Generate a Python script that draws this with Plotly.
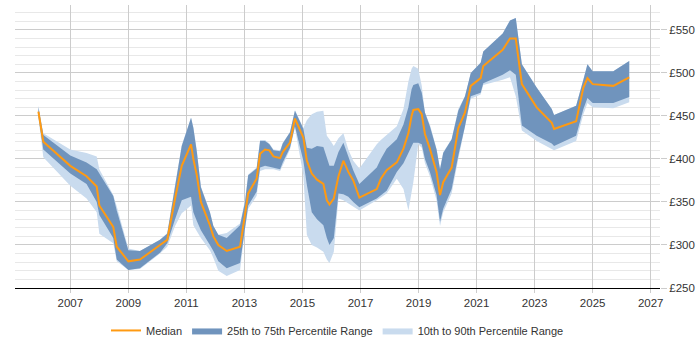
import plotly.graph_objects as go

years = [2005.9, 2006.07, 2007.0, 2007.56, 2007.91, 2008.0, 2008.48, 2008.6, 2009.0, 2009.4,
         2010.09, 2010.34, 2010.61, 2010.84, 2011.16, 2011.24, 2011.36, 2011.5, 2011.81, 2011.93,
         2012.1, 2012.39, 2012.85, 2013.02, 2013.13, 2013.42, 2013.54, 2013.71, 2013.86, 2014.0,
         2014.23, 2014.32, 2014.57, 2014.74, 2015.03, 2015.15, 2015.32, 2015.5, 2015.72, 2015.84,
         2015.93, 2016.08, 2016.24, 2016.41, 2016.58, 2016.75, 2016.96, 2017.56, 2017.7, 2017.9,
         2018.25, 2018.48, 2018.65, 2018.76, 2018.82, 2018.99, 2019.11, 2019.22, 2019.39, 2019.62,
         2019.74, 2019.85, 2020.14, 2020.37, 2020.6, 2020.8, 2021.14, 2021.23, 2021.9, 2022.15,
         2022.35, 2022.56, 2023.07, 2023.59, 2023.67, 2024.43, 2024.68, 2024.82, 2025.0, 2025.71,
         2026.26]

median = [455, 420, 392, 380, 368, 346, 321, 298, 281, 283,
          300, 306, 354, 392, 417, 400, 381, 350, 323, 310,
          300, 293, 298, 338, 360, 377, 406, 411, 410, 403,
          401, 408, 419, 447, 425, 398, 383, 376, 371, 352,
          347, 354, 380, 398, 385, 375, 355, 365, 377, 387,
          396, 412, 430, 450, 457, 458, 452, 429, 412, 385,
          358, 373, 390, 436, 454, 485, 494, 508, 527, 540,
          540, 487, 460, 442, 435, 444, 483, 494, 487, 485,
          495]

p25 = [450, 411, 383, 371, 350, 335, 308, 283, 271, 273,
       291, 302, 330, 352, 356, 338, 328, 317, 300, 293,
       281, 273, 279, 323, 346, 362, 390, 392, 391, 390,
       388, 396, 413, 438, 398, 370, 338, 330, 323, 308,
       300, 308, 360, 359, 356, 350, 344, 354, 358, 363,
       385, 395, 407, 415, 419, 419, 417, 400, 385, 358,
       327, 342, 365, 404, 438, 473, 477, 488, 498, 503,
       498, 439, 427, 418, 415, 427, 458, 471, 465, 465,
       472]

p75 = [460, 428, 404, 396, 388, 383, 357, 340, 294, 293,
       306, 313, 370, 415, 448, 436, 408, 367, 338, 322,
       312, 308, 323, 350, 381, 389, 421, 421, 417, 410,
       409, 418, 431, 456, 435, 413, 412, 415, 414, 400,
       392, 392, 408, 419, 403, 387, 371, 390, 400, 412,
       423, 440, 460, 481, 486, 488, 477, 454, 438, 411,
       388, 407, 423, 456, 473, 500, 512, 525, 546, 561,
       564, 510, 483, 458, 451, 462, 492, 510, 502, 502,
       514]

p10 = [448, 402, 369, 354, 338, 313, 302, 281, 271, 272,
       290, 298, 322, 337, 346, 323, 316, 308, 294, 285,
       270, 264, 271, 319, 342, 357, 386, 388, 388, 388,
       386, 393, 411, 436, 381, 312, 300, 297, 292, 283,
       279, 292, 354, 352, 348, 344, 340, 352, 355, 360,
       377, 365, 340, 362, 373, 417, 413, 395, 380, 352,
       322, 338, 360, 400, 436, 470, 475, 486, 492, 495,
       473, 433, 421, 412, 410, 421, 452, 465, 460, 459,
       466]

p90 = [462, 430, 411, 407, 403, 388, 358, 345, 296, 293,
       306, 314, 370, 416, 448, 437, 410, 368, 339, 322,
       312, 314, 325, 352, 382, 390, 422, 422, 418, 411,
       410, 419, 431, 457, 436, 445, 452, 455, 456, 427,
       423, 415, 424, 430, 411, 398, 389, 417, 422, 428,
       438, 458, 490, 505, 508, 505, 485, 454, 440, 412,
       389, 408, 423, 458, 473, 500, 512, 525, 546, 561,
       564, 510, 483, 458, 451, 462, 492, 510, 502, 502,
       514]

x_ticks = [2007, 2009, 2011, 2013, 2015, 2017, 2019, 2021, 2023, 2025, 2027]
x_labels = [str(y) for y in x_ticks]
y_ticks = [250, 300, 350, 400, 450, 500, 550]
y_labels = ["£" + str(v) for v in y_ticks]

LIGHT = "#c9dbee"
DARK = "#7094bd"
ORANGE = "#ff9a12"

fig = go.Figure()
fig.add_trace(go.Scatter(x=years, y=p10, mode="lines", line=dict(width=0, color=LIGHT),
                         showlegend=False, hoverinfo="skip"))
fig.add_trace(go.Scatter(x=years, y=p90, mode="lines", line=dict(width=0, color=LIGHT),
                         fill="tonexty", fillcolor=LIGHT, name="10th to 90th Percentile Range",
                         legendrank=3))
fig.add_trace(go.Scatter(x=years, y=p25, mode="lines", line=dict(width=0, color=DARK),
                         showlegend=False, hoverinfo="skip"))
fig.add_trace(go.Scatter(x=years, y=p75, mode="lines", line=dict(width=0, color=DARK),
                         fill="tonexty", fillcolor=DARK, name="25th to 75th Percentile Range",
                         legendrank=2))
fig.add_trace(go.Scatter(x=years, y=median, mode="lines", line=dict(width=2, color=ORANGE),
                         name="Median", legendrank=1))

fig.update_layout(
    width=700, height=350,
    margin=dict(l=15, r=40, t=5, b=60),
    paper_bgcolor="white", plot_bgcolor="white",
    font=dict(family="Liberation Sans, Arial, sans-serif", size=11, color="#333333"),
    showlegend=True,
    legend=dict(orientation="h", x=0.5, xanchor="center", y=-0.15, yanchor="middle",
                font=dict(size=11, color="#333333"), traceorder="normal",
                itemwidth=30),
    xaxis=dict(range=[2005.094, 2027.32], tickvals=x_ticks, ticktext=x_labels,
               showgrid=True, gridcolor="#cccccc", gridwidth=1,
               showline=True, linecolor="#000000", linewidth=1,
               ticks="outside", ticklen=4, tickcolor="#cccccc",
               zeroline=False, tickfont=dict(size=11.5, color="#333333")),
    yaxis=dict(range=[250, 579], side="right", tickvals=y_ticks, ticktext=y_labels,
               showgrid=True, gridcolor="#cccccc", gridwidth=1,
               minor=dict(dtick=10, tick0=250, showgrid=True, gridcolor="#e8e8e8", gridwidth=1),
               ticks="outside", ticklen=6, tickcolor="#cccccc",
               showline=False, zeroline=False, tickfont=dict(size=11.5, color="#333333")),
)

fig.write_html("out.html")
